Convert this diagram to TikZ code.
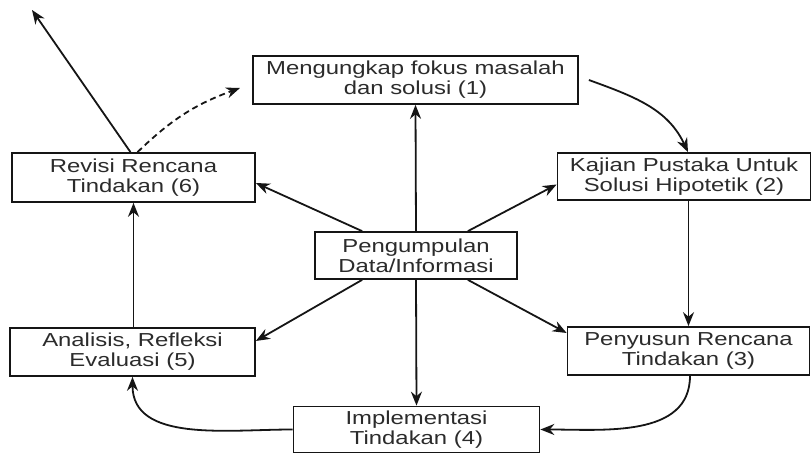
\documentclass[tikz,border=0pt]{standalone}
\usepackage{fontspec}
\setmainfont{Liberation Sans}[FakeStretch=1.27]
\usetikzlibrary{arrows.meta,positioning,calc}
\definecolor{Line}{HTML}{151515}
\definecolor{Text}{HTML}{2B2B2B}

\begin{document}
\begin{tikzpicture}[x=1pt,y=1pt,
    box/.style={draw=Line,line width=1.7pt,fill=white,inner sep=0pt,align=center,
      text=Text,font=\fontsize{18.8}{20}\selectfont},
    flow/.style={-{Stealth[length=14pt,width=11pt]},draw=Line,line width=1.8pt}]
      \useasboundingbox (0,0) rectangle (812,454);
      % boxes
      \node[box,minimum width=325pt,minimum height=48pt] (fokus) at (415.5,374) {Mengungkap fokus masalah\\dan solusi (1)};
      \node[box,minimum width=253pt,minimum height=47pt] (kajian) at (684,277.5) {Kajian Pustaka Untuk\\Solusi Hipotetik (2)};
      \node[box,minimum width=242pt,minimum height=48pt] (penyusun) at (688.5,103) {Penyusun Rencana\\Tindakan (3)};
      \node[box,minimum width=246pt,minimum height=46pt] (impl) at (416.5,24.5) {Implementasi\\Tindakan (4)};
      \node[box,minimum width=245pt,minimum height=48pt] (analisis) at (132.5,102) {Analisis, Refleksi\\Evaluasi (5)};
      \node[box,minimum width=243pt,minimum height=49pt] (revisi) at (133.5,276.5) {Revisi Rencana\\Tindakan (6)};
      \node[box,minimum width=202pt,minimum height=47pt] (data) at (416,198.5) {Pengumpulan\\Data/Informasi};
      \coordinate (keluar) at (32,444);
      \coordinate (ulang) at (240,366);
      % cycle
      \draw[flow] ([xshift=10pt]fokus.east) to[out=-20,in=115] ([xshift=4pt]kajian.north);
      \draw[flow] (kajian.south -| penyusun.north) -- (penyusun.north);
      \draw[flow] ([xshift=1.5pt]penyusun.south) to[out=-90,in=0] (impl.east);
      \draw[flow] (impl.west) to[out=180,in=-90] (analisis.south);
      \draw[flow] (analisis.north -| revisi.south) -- (revisi.south);
      \draw[flow] ([xshift=-3pt]revisi.north) -- (keluar);
      \draw[flow,dash pattern=on 6pt off 4pt] ([xshift=4pt]revisi.north) to[bend left=12] (ulang);
      % from the centre
      \draw[flow] (data.north) -- (fokus.south);
      \draw[flow] (data.south) -- (impl.north);
      \draw[flow] ([xshift=48pt]data.north west) -- ([yshift=-5.5pt]revisi.east);
      \draw[flow] ([xshift=-50pt]data.north east) -- ([yshift=-8pt]kajian.west);
      \draw[flow] ([xshift=48pt]data.south west) -- ([yshift=11pt]analisis.east);
      \draw[flow] ([xshift=-50pt]data.south east) -- ([yshift=18pt]penyusun.west);
    \end{tikzpicture}
\end{document}
